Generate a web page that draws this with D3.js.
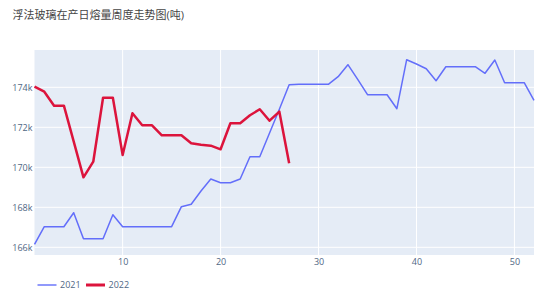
<!DOCTYPE html>
<html>
<head>
<meta charset="utf-8">
<script src="https://cdn.jsdelivr.net/npm/d3@7"></script>
<style>
  body { margin: 0; background: #fff; }
  text { font-family: "Open Sans", "Noto Sans CJK SC", sans-serif; }
</style>
</head>
<body>
<div id="chart"></div>
<script>
// weekly values
const weeks2021 = d3.range(1, 53);
const values2021 = [
  166150, 167030, 167030, 167030, 167730, 166430, 166430, 166430, 167630, 167030,
  167030, 167030, 167030, 167030, 167030, 168030, 168150, 168815, 169415, 169230,
  169230, 169415, 170530, 170530, 171715, 172900, 174130, 174150, 174150, 174150,
  174150, 174530, 175130, 174400, 173630, 173630, 173630, 172930, 175380, 175165,
  174930, 174330, 175030, 175030, 175030, 175030, 174700, 175365, 174230, 174230,
  174230, 173350
];
const weeks2022 = d3.range(1, 28);
const values2022 = [
  174030, 173780, 173080, 173080, 171300, 169500, 170280, 173480, 173480, 170615,
  172700, 172100, 172100, 171600, 171600, 171600, 171200, 171130, 171080, 170900,
  172200, 172200, 172600, 172900, 172330, 172780, 170200
];
const yTicks = [166000, 168000, 170000, 172000, 174000];
const xTicks = [10, 20, 30, 40, 50];

const seriesNames = ["2021", "2022"];
const seriesColors = ["#636efa", "#dc143c"];
const seriesWidths = [1.5, 2.5];

const W = 550, H = 296;
const margin = { left: 34.5, right: 16, top: 50, bottom: 41 };

const svg = d3.select("#chart").append("svg")
    .attr("width", W)
    .attr("height", H);

const x = d3.scaleLinear()
    .domain([1, 52])
    .range([margin.left, W - margin.right]);

const y = d3.scaleLinear()
    .domain([165615, 175865])
    .range([H - margin.bottom, margin.top]);

// plot background
svg.append("rect")
    .attr("x", margin.left)
    .attr("y", margin.top)
    .attr("width", W - margin.right - margin.left)
    .attr("height", H - margin.bottom - margin.top)
    .attr("fill", "#e5ecf6");

// grid
svg.append("g").selectAll("line")
    .data(yTicks)
    .join("line")
    .attr("x1", margin.left).attr("x2", W - margin.right)
    .attr("y1", d => y(d)).attr("y2", d => y(d))
    .attr("stroke", "#fff").attr("stroke-width", 1);

svg.append("g").selectAll("line")
    .data(xTicks)
    .join("line")
    .attr("x1", d => x(d)).attr("x2", d => x(d))
    .attr("y1", margin.top).attr("y2", H - margin.bottom)
    .attr("stroke", "#fff").attr("stroke-width", 1);

// axis labels
const yAxis = d3.axisLeft(y).tickValues(yTicks)
    .tickFormat(d => (d / 1000) + "k").tickSize(0).tickPadding(2);
svg.append("g")
    .attr("transform", "translate(" + margin.left + ",0)")
    .call(yAxis)
    .call(g => g.select(".domain").remove())
    .call(g => g.selectAll("text").attr("fill", "#506784").style("font-size", "9px"));

const xAxis = d3.axisBottom(x).tickValues(xTicks).tickSize(0).tickPadding(4);
svg.append("g")
    .attr("transform", "translate(0," + (H - margin.bottom) + ")")
    .call(xAxis)
    .call(g => g.select(".domain").remove())
    .call(g => g.selectAll("text").attr("fill", "#506784").style("font-size", "9px"));

// lines
const line = d3.line().x(d => x(d[0])).y(d => y(d[1]));
const series = [
    d3.zip(weeks2021, values2021),
    d3.zip(weeks2022, values2022)
];

series.forEach((s, i) => {
    svg.append("path")
        .attr("d", line(s))
        .attr("fill", "none")
        .attr("stroke", seriesColors[i])
        .attr("stroke-width", seriesWidths[i])
        .attr("stroke-linejoin", "round");
});

// title
svg.append("text")
    .attr("x", 12.5)
    .attr("y", 19)
    .attr("fill", "#444")
    .style("font-size", "11px")
    .text("浮法玻璃在产日熔量周度走势图(吨)");

// legend
const legend = svg.append("g").attr("transform", "translate(37.5,285)");
seriesNames.forEach((name, i) => {
    const g = legend.append("g").attr("transform", "translate(" + (i * 48.5) + ",0)");
    g.append("line")
        .attr("x1", 0).attr("x2", 19)
        .attr("stroke", seriesColors[i])
        .attr("stroke-width", seriesWidths[i] + 0.5)
        .attr("opacity", i === 0 ? 0.7 : 1);
    g.append("text")
        .attr("x", 22.5)
        .attr("y", 3)
        .attr("fill", "#506784")
        .style("font-size", "9px")
        .text(name);
});
</script>
</body>
</html>
